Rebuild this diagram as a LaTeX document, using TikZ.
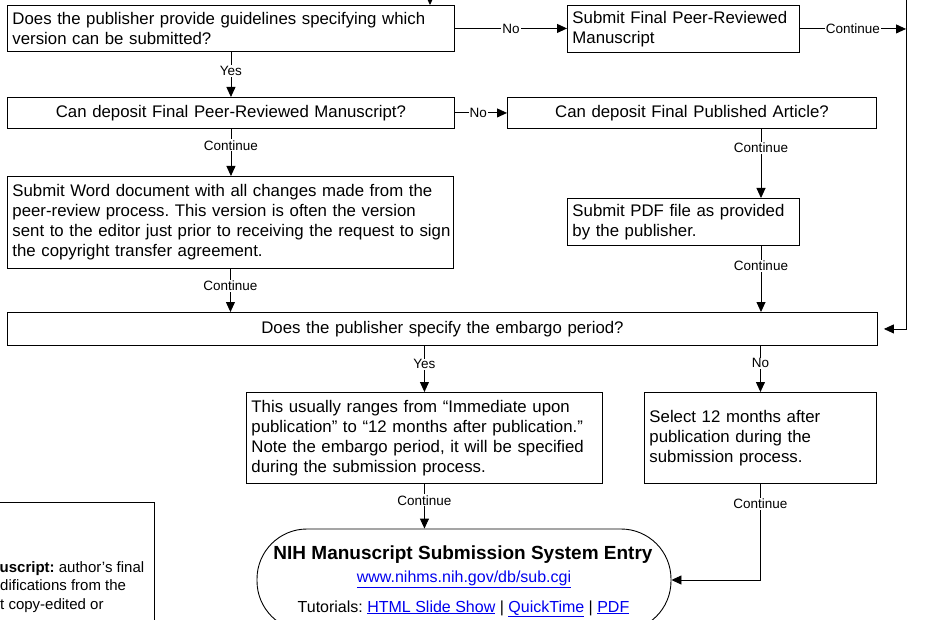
\documentclass[tikz,border=0pt]{standalone}
\usepackage{fontspec}
\setmainfont{Liberation Sans}
\usetikzlibrary{arrows.meta,calc}
\definecolor{linkblue}{RGB}{0,0,238}
\newcommand{\lnk}[1]{\textcolor{linkblue}{\underline{#1}}}
\begin{document}
\frenchspacing
\begin{tikzpicture}[x=1pt,y=-1pt,
  box/.style={draw, line width=0.9pt, inner xsep=5pt, inner ysep=0pt, anchor=north west, font=\fontsize{16.8}{20}\selectfont},
  lbox/.style={box, align=left},
  cbox/.style={box, align=center},
  conn/.style={line width=0.9pt, -{Triangle[length=10pt,width=9pt]}},
  lab/.style={fill=white, inner sep=1pt, font=\fontsize{13.5}{15}\selectfont},
  ttext/.style={anchor=base, inner sep=0pt, font=\fontsize{16}{19}\selectfont},
  legtext/.style={anchor=base west, inner sep=0pt, font=\fontsize{15}{18}\selectfont}
]
\useasboundingbox (0,0) rectangle (934,620);
\clip (0,0) rectangle (934,620);

% boxes
\node[lbox, text width=437pt, minimum height=46pt] (q1) at (7,5) {Does the publisher provide guidelines specifying which\\version can be submitted?};
\node[lbox, text width=222pt, minimum height=47pt] (sfprm) at (567,5) {Submit Final Peer-Reviewed\\Manuscript};
\node[cbox, text width=437pt, minimum height=31pt] (q2) at (7,97) {Can deposit Final Peer-Reviewed Manuscript?};
\node[cbox, text width=359pt, minimum height=31pt] (q3) at (507,97) {Can deposit Final Published Article?};
\node[lbox, text width=436pt, minimum height=92pt] (word) at (7,176) {\mbox{Submit Word document with all changes made from the}\\\mbox{peer-review process. This version is often the version}\\\mbox{sent to the editor just prior to receiving the request to sign}\\\mbox{the copyright transfer agreement.}};
\node[lbox, text width=222pt, minimum height=47pt] (pdf) at (567,198) {Submit PDF file as provided\\by the publisher.};
\node[cbox, text width=860pt, minimum height=33pt] (q4) at (7,312) {Does the publisher specify the embargo period?};
\node[lbox, text width=346pt, minimum height=91pt] (range) at (246,392) {\mbox{This usually ranges from “Immediate upon}\\\mbox{publication” to “12 months after publication.”}\\\mbox{Note the embargo period, it will be specified}\\\mbox{during the submission process.}};
\node[lbox, text width=222pt, minimum height=91pt] (sel12) at (644,392) {Select 12 months after\\publication during the\\submission process.};

% terminal
\node[draw, line width=0.9pt, rounded corners=50pt, minimum width=414pt, minimum height=102pt, inner sep=0pt] (term) at (464,580) {};
\node[ttext, font=\bfseries\fontsize{19}{22}\selectfont] (ttl) at (463,559) {NIH Manuscript Submission System Entry};
\node[ttext, text=linkblue] (url) at (464,582) {\underline{www.nihms.nih.gov/db/sub.cgi}};
\node[ttext] (tut) at (463.5,612) {Tutorials: \lnk{HTML Slide Show} | \lnk{QuickTime} | \lnk{PDF}};

% legend (cropped)
\node[draw, line width=0.9pt, minimum width=200pt, minimum height=150pt, anchor=north east] (legend) at (155,502) {};
\node[legtext] (lg1) at (-0.5,572) {\textbf{uscript:} author's final};
\node[legtext] (lg2) at (0,590.5) {difications from the};
\node[legtext] (lg3) at (0,609) {t copy-edited or};

% connectors
\coordinate (topin) at (430,-20);
\coordinate (rtop) at (906,-20);
\coordinate (colR) at (761,0);

\draw[conn] (topin) -- (topin |- q1.north);
\draw[conn, shorten >=6pt] (rtop) -- (rtop |- q4.east) -- (q4.east);
\draw[conn] (sfprm.east) -- node[lab]{Continue} (sfprm.east -| rtop);
\draw[conn] (q1.east) -- node[lab]{No} (q1.east -| sfprm.west);
\draw[conn] (q1.south) -- node[lab, pos=0.42]{Yes} (q2.north);
\draw[conn] (q2.east) -- node[lab, pos=0.45]{No} (q3.west);
\draw[conn] (q2.south) -- node[lab, pos=0.35]{Continue} (q2.south |- word.north);
\draw[conn] (word.south) -- node[lab, pos=0.4]{Continue} (word.south |- q4.north);
\draw[conn] (q3.south -| colR) -- node[lab, pos=0.27]{Continue} (pdf.north -| colR);
\draw[conn] (pdf.south -| colR) -- node[lab, pos=0.3]{Continue} (q4.north -| colR);
\draw[conn] (q4.south -| range.north) -- node[lab, pos=0.4]{Yes} (range.north);
\draw[conn] (q4.south -| sel12.north) -- node[lab, pos=0.38]{No} (sel12.north);
\draw[conn] (range.south) -- node[lab, pos=0.37]{Continue} (range.south |- term.north);
\draw[conn] (sel12.south) -- node[lab, pos=0.21]{Continue} (sel12.south |- term.east) -- (term.east);
\end{tikzpicture}
\end{document}
